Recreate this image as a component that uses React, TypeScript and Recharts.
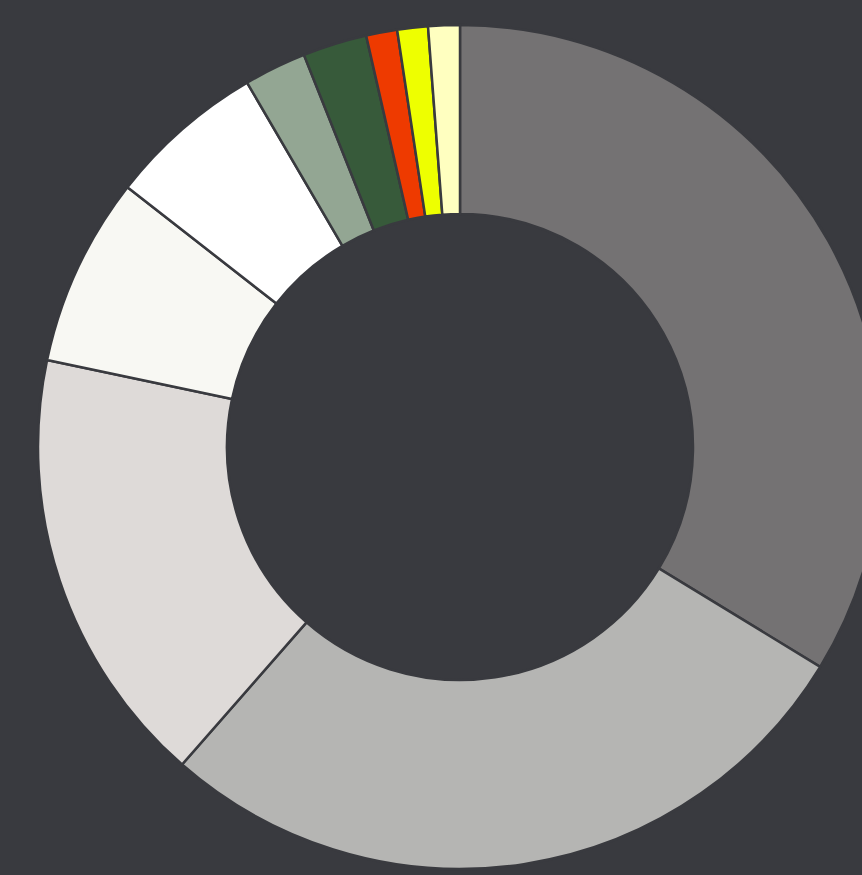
import { PieChart, Pie, Cell } from 'recharts'

const categories = ['A', 'B', 'C', 'D', 'E', 'F', 'G', 'H', 'I', 'J']
const values = [121.4, 99.8, 60.7, 26.1, 21.7, 8.6, 8.85, 4.28, 4.22, 4.35]
const colors = [
    '#747273',
    '#b5b5b3',
    '#dedad8',
    '#f8f8f3',
    '#ffffff',
    '#93a693',
    '#375a3a',
    '#ee3a00',
    '#eeff00',
    '#ffffc0'
]

const BG = '#393a3f'

export default function App() {
    const data = categories.map((name, i) => ({ name, value: values[i] }))

    return (
        <div
            style={{
                position: 'fixed',
                top: 0,
                left: 0,
                width: 862,
                height: 875,
                background: BG,
                overflow: 'hidden'
            }}
        >
            <PieChart width={862} height={875} margin={{ top: 0, right: 0, bottom: 0, left: 0 }}>
                <Pie
                    data={data}
                    dataKey="value"
                    nameKey="name"
                    cx={460}
                    cy={447}
                    innerRadius={233}
                    outerRadius={422}
                    startAngle={90}
                    endAngle={-270}
                    stroke={BG}
                    strokeWidth={2.5}
                    isAnimationActive={false}
                >
                    {data.map((d, i) => (
                        <Cell key={d.name} fill={colors[i]} />
                    ))}
                </Pie>
            </PieChart>
        </div>
    )
}
